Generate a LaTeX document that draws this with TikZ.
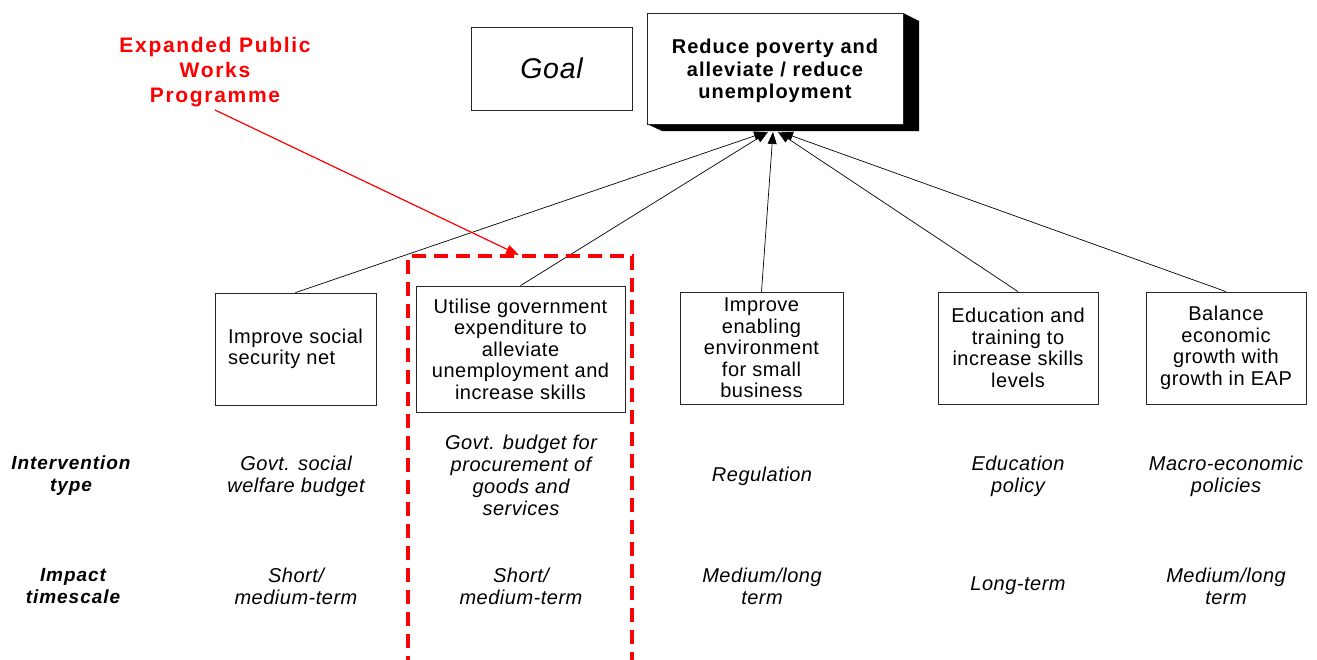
\documentclass[tikz,border=0pt]{standalone}
\usepackage{fontspec}
\setmainfont{Liberation Sans}[LetterSpace=2.5]
\newfontfamily\boldwide{Liberation Sans}[LetterSpace=5]
\newfontfamily\redwide{Liberation Sans}[LetterSpace=8]
\usetikzlibrary{arrows.meta}

\definecolor{epwpred}{RGB}{255,0,0}

\begin{document}
\begin{tikzpicture}[x=1pt,y=-1pt,
  every node/.style={inner sep=0pt, align=center},
  plain/.style={font=\fontsize{20}{21.5}\selectfont},
  box/.style={draw=black!85, line width=0.8pt, fill=white, plain},
  rowitem/.style={font=\fontsize{20}{22}\selectfont\itshape},
  rowlabel/.style={font=\fontsize{19}{22}\selectfont\boldwide\bfseries\itshape},
  link/.style={line width=0.7pt, -{Triangle[length=12pt,width=9pt]}},
  callout/.style={draw=epwpred, line width=1.2pt, -{Triangle[length=13pt,width=9pt]}},
  frame/.style={draw=epwpred, line width=3.5pt, dash pattern=on 14pt off 8pt}
]
\useasboundingbox (0,0) rectangle (1317,659);
\clip (0,0) rectangle (1317,659);

% goal label
\node[box, minimum width=161pt, minimum height=83pt, font=\fontsize{28.5}{30}\selectfont\itshape]
  (goal) at (551.5,68.5) {Goal};

% goal box with its extruded shadow
\fill[black] (903,13) -- (919,21) -- (919,131) -- (662,131) -- (647,124) -- (903,124) -- cycle;
\node[box, minimum width=256pt, minimum height=111pt] (main) at (775,68.5) {};
\node[font=\fontsize{20}{22.5}\selectfont\boldwide\bfseries] (maintext) at (775,71)
  {Reduce poverty and\\alleviate / reduce\\unemployment};

% arrow targets under the goal box
\coordinate (tipA) at (766,132);
\coordinate (tipB) at (768,132);
\coordinate (tipC) at (773,132);
\coordinate (tipD) at (778,132);
\coordinate (tipE) at (781,132);

% objectives
\node[box, minimum width=161pt, minimum height=112pt, align=left] (b1) at (295.5,349) {Improve social\\security net};
\node[box, minimum width=209pt, minimum height=126pt] (b2) at (520.5,349)
  {Utilise government\\expenditure to\\alleviate\\unemployment and\\increase skills};
\node[box, minimum width=163pt, minimum height=112pt] (b3) at (761.5,348)
  {Improve\\enabling\\environment\\for small\\business};
\node[box, minimum width=160pt, minimum height=112pt] (b4) at (1018,348)
  {Education and\\training to\\increase skills\\levels};
\node[box, minimum width=160pt, minimum height=112pt] (b5) at (1226,348)
  {Balance\\economic\\growth with\\growth in EAP};

% connectors to the goal
\draw[link] (b1.north) -- (tipA);
\draw[link] (b2.north) -- (tipB);
\draw[link] (b3.north) -- (tipC);
\draw[link] (b4.north) -- (tipD);
\draw[link] (b5.north) -- (tipE);

% row labels
\node[rowlabel] (lint) at (71,476) {Intervention\\type};
\node[rowlabel] (limp) at (73,586) {Impact\\timescale};

% intervention types
\node[rowitem] (i1) at (296,476) {Govt. social\\welfare budget};
\node[rowitem] (i2) at (521,475) {Govt. budget for\\procurement of\\goods and\\services};
\node[rowitem] (i3) at (762,476) {Regulation};
\node[rowitem] (i4) at (1018,476) {Education\\policy};
\node[rowitem] (i5) at (1226,476) {Macro-economic\\policies};

% impact timescales
\node[rowitem] (t1) at (296,586) {Short/\\medium-term};
\node[rowitem] (t2) at (521,586) {Short/\\medium-term};
\node[rowitem] (t3) at (762,586) {Medium/long\\term};
\node[rowitem] (t4) at (1018,586) {Long-term};
\node[rowitem] (t5) at (1226,586) {Medium/long\\term};

% highlighted programme column
\draw[frame] (408,670) -- (408,256) -- (632,256) -- (632,670);
\coordinate (frametop) at (519,255);

% programme callout
\node[text=epwpred, font=\fontsize{21}{25}\selectfont\redwide\bfseries] (epwp) at (215,72)
  {Expanded Public\\Works\\Programme};
\draw[callout] (215,110) -- (frametop);
\end{tikzpicture}
\end{document}
